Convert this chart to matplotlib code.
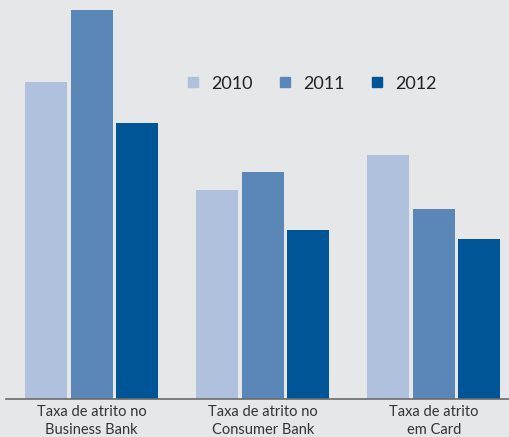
import numpy as np
import matplotlib.pyplot as plt
from matplotlib.lines import Line2D

categories = ["Taxa de atrito no\nBusiness Bank", "Taxa de atrito no\nConsumer Bank", "Taxa de atrito\nem Card"]
years = ["2010", "2011", "2012"]
v2010 = [317, 209, 244]
v2011 = [389, 227, 190]
v2012 = [276, 169, 160]

colors = ["#b0c1de", "#5b87b8", "#005596"]
bg = "#e5e7e9"

plt.rcParams["font.family"] = ["Lato", "DejaVu Sans"]

fig = plt.figure(figsize=(5.09, 4.37), dpi=100, facecolor=bg)
ax = fig.add_axes([6 / 509, 38 / 437, 503 / 509, 399 / 437], facecolor=bg)

x = np.arange(len(categories))
width = 0.246
pitch = 0.267
for i, (vals, c) in enumerate(zip([v2010, v2011, v2012], colors)):
    ax.bar(x + (i - 1) * pitch, vals, width, color=c, label=years[i])

ax.set_xlim(-0.5, 2.44)
ax.set_ylim(0, 399)
ax.set_yticks([])
ax.set_xticks(x)
ax.set_xticklabels(categories, fontsize=10.5, color="#333333", linespacing=1.4)
ax.tick_params(axis="x", length=0, pad=4)
for s in ["top", "right", "left"]:
    ax.spines[s].set_visible(False)
ax.spines["bottom"].set_color("#6b6b6b")
ax.spines["bottom"].set_linewidth(1.2)

handles = [Line2D([], [], marker="s", linestyle="none", markersize=7.5, color=c) for c in colors]
ax.legend(handles, years, ncol=3, frameon=False, loc="center", bbox_to_anchor=(0.606, 0.79),
          fontsize=13, handletextpad=0.55, handlelength=0.9, columnspacing=1.35,
          labelcolor="#222222")

fig.savefig("out.png", dpi=100, facecolor=bg)
